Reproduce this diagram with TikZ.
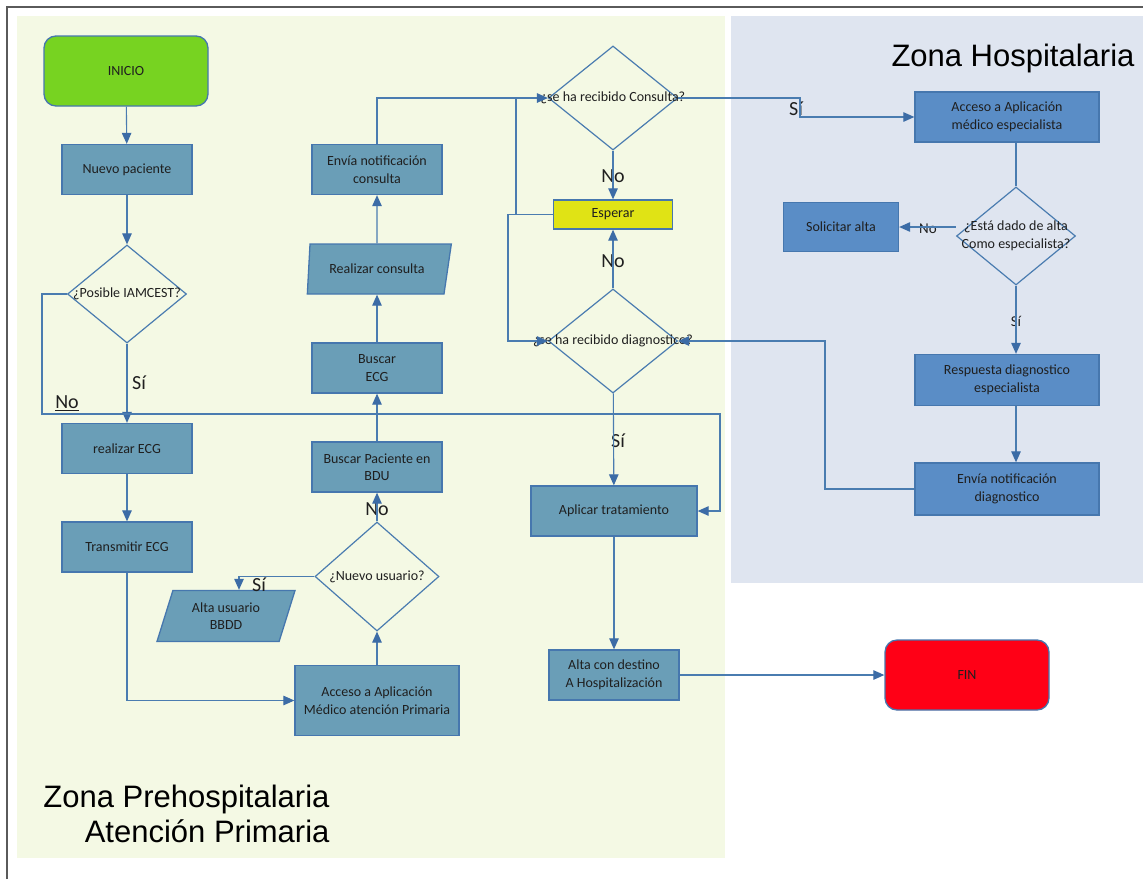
\documentclass[tikz,border=0pt]{standalone}
\usepackage{fontspec}
\setmainfont{Carlito}
\newfontfamily\zonafont{Liberation Sans}
\usetikzlibrary{arrows.meta,shapes.geometric}

\definecolor{prezone}{HTML}{F4F9E4}
\definecolor{hospzone}{HTML}{DFE5F0}
\definecolor{procfill}{HTML}{6A9EB7}
\definecolor{hospfill}{HTML}{5A8DC6}
\definecolor{boxline}{HTML}{4677AE}
\definecolor{flowline}{HTML}{4A7CB0}
\definecolor{tipblue}{HTML}{3C6CA6}
\definecolor{inicio}{HTML}{77D321}
\definecolor{fin}{HTML}{FF0016}
\definecolor{esperar}{HTML}{E0E315}
\definecolor{framegray}{HTML}{5A5A5A}

\begin{document}
\begin{tikzpicture}[->,>={Triangle[length=11pt,width=9.5pt,color=tipblue]},x=1pt,y=-1pt,
                    line width=1.1pt,color=flowline,text=black!88,
                    font=\fontsize{14}{17.5}\selectfont]
  \tikzstyle{proc}=[rectangle,draw=boxline,line width=1.3pt,fill=procfill,
                    minimum width=130pt,minimum height=50pt,inner sep=2pt,align=center]
  \tikzstyle{hosp}=[proc,fill=hospfill,minimum width=184pt]
  \tikzstyle{term}=[proc,rounded corners=12pt,minimum width=164pt,minimum height=70pt]
  \tikzstyle{decision}=[diamond,draw=flowline,line width=1.2pt,inner sep=0pt,
                        minimum width=119pt,minimum height=98pt]
  \tikzstyle{io}=[proc,trapezium,trapezium stretches body=true,
                  trapezium left angle=63,trapezium right angle=117]
  \tikzstyle{tag}=[font=\fontsize{20}{22}\selectfont,inner sep=1pt]
  \tikzstyle{smalltag}=[font=\fontsize{15}{17}\selectfont,inner sep=1pt]
  \tikzstyle{zona}=[font=\zonafont\fontsize{31}{35}\selectfont,text=black,inner sep=0pt]

  \useasboundingbox (0,0) rectangle (1143,879);
  % zonas
  \fill[prezone] (17,16) rectangle (725,858);
  \fill[hospzone] (731,16) rectangle (1143,583);
  \draw[-,framegray,line width=1.2pt] (7,879) -- (7,7) -- (1143,7);

  \node[zona,anchor=base east] (hosptitle) at (1135,66) {Zona Hospitalaria};
  \node[zona,anchor=base east] (pretitle) at (330,807) {Zona Prehospitalaria};
  \node[zona,anchor=base east] (atentitle) at (330,842) {Atención Primaria};

  % columna 1
  \node[term,fill=inicio] (inicio) at (126,71) {INICIO};
  \node[proc] (nuevo) at (127,169.5) {Nuevo paciente};
  \node[decision,label={center:¿Posible IAMCEST?}] (iamcest) at (127,294) {};
  \node[proc] (ecg) at (127,448.5) {realizar ECG};
  \node[proc] (trans) at (127,547) {Transmitir ECG};

  % columna 2
  \node[proc,minimum width=164pt,minimum height=70pt] (accprim) at (377,700.5)
       {Acceso a Aplicación\\Médico atención Primaria};
  \node[decision,minimum width=124pt,minimum height=109pt,
        label={center:¿Nuevo usuario?}] (nuevousr) at (377,576.5) {};
  \node[io,minimum width=138pt,minimum height=51pt] (altausr) at (226,616) {Alta usuario\\BBDD};
  \node[proc] (buscpac) at (377,467) {Buscar Paciente en\\BDU};
  \node[proc] (buscecg) at (377,368) {Buscar\\ECG};
  \node[io,minimum width=144pt,minimum height=50pt,
        trapezium left angle=79,trapezium right angle=118] (consulta) at (377,269) {Realizar consulta};
  \node[proc] (notcons) at (377,169.5) {Envía notificación\\consulta};

  % columna 3
  \node[decision,minimum width=129pt,minimum height=104pt,
        label={center:¿se ha recibido Consulta?}] (recons) at (613,98) {};
  \node[proc,fill=esperar,minimum width=119pt,minimum height=29pt] (esperar) at (613,214.5) {Esperar};
  \node[decision,minimum width=129pt,minimum height=104pt,
        label={center:¿se ha recibido diagnostico?}] (rediag) at (613,341) {};
  \node[proc,minimum width=166pt] (tratam) at (614,511) {Aplicar tratamiento};
  \node[proc] (altahosp) at (614,675) {Alta con destino\\A Hospitalización};
  \node[term,fill=fin] (fin) at (967,675) {FIN};

  % zona hospitalaria
  \node[hosp] (accesp) at (1007,117) {Acceso a Aplicación\\médico especialista};
  \node[decision,label={[align=center]center:¿Está dado de alta\\Como especialista?}]
       (estaalta) at (1016,236) {};
  \node[hosp,minimum width=115pt,minimum height=49pt] (solalta) at (841,227) {Solicitar alta};
  \node[hosp,minimum height=51pt] (respdiag) at (1007,380) {Respuesta diagnostico\\especialista};
  \node[hosp,minimum height=52pt] (notdiag) at (1007,489) {Envía notificación\\diagnostico};

  % etiquetas
  \node[tag] (siiam) at (139,383) {Sí};
  \node[tag] (noiam) at (67,403) {\underline{No}};
  \node[tag] (sialta) at (259,585) {Sí};
  \node[tag] (nousr) at (377,509) {No};
  \node[tag] (nocons) at (613,176) {No};
  \node[tag] (nodiag) at (613,261) {No};
  \node[tag] (sidiag) at (618,441) {Sí};
  \node[tag] (sicons) at (796,109) {Sí};
  \node[smalltag] (noesp) at (928,229) {No};
  \node[smalltag] (siesp) at (1016,321) {Sí};

  % conexiones
  \draw (inicio) -- (nuevo);
  \draw (nuevo) -- (iamcest);
  \draw (iamcest) -- (ecg);
  \draw (iamcest.west) -| (42,414) -| (720,511) -- (tratam.east);
  \draw (ecg) -- (trans);
  \draw (trans) |- (accprim);
  \draw (accprim) -- (nuevousr);
  \draw (nuevousr.west) -| ([xshift=13pt]altausr.north);
  \draw (nuevousr) -- (buscpac);
  \draw (buscpac) -- (buscecg);
  \draw (buscecg) -- (consulta);
  \draw (consulta) -- (notcons);
  \draw (notcons) |- (recons.west);
  \draw[-] (esperar.west) -| (516,98);
  \draw (esperar.west) -| (508,341) -- (rediag.west);
  \draw (recons) -- (esperar);
  \draw (rediag) -- (esperar);
  \draw (rediag) -- (tratam);
  \draw (tratam) -- (altahosp);
  \draw (altahosp) -- (fin);
  \draw (recons.east) -| (800,117) -- (accesp.west);
  \draw[-] (estaalta.north |- accesp.south) -- (estaalta.north);
  \draw (solalta.east -| estaalta.west) -- (solalta.east);
  \draw (estaalta.south) -- (estaalta.south |- respdiag.north);
  \draw (estaalta.south |- respdiag.south) -- (estaalta.south |- notdiag.north);
  \draw (notdiag.west) -| (825,341) -- (rediag.east);
\end{tikzpicture}
\end{document}
